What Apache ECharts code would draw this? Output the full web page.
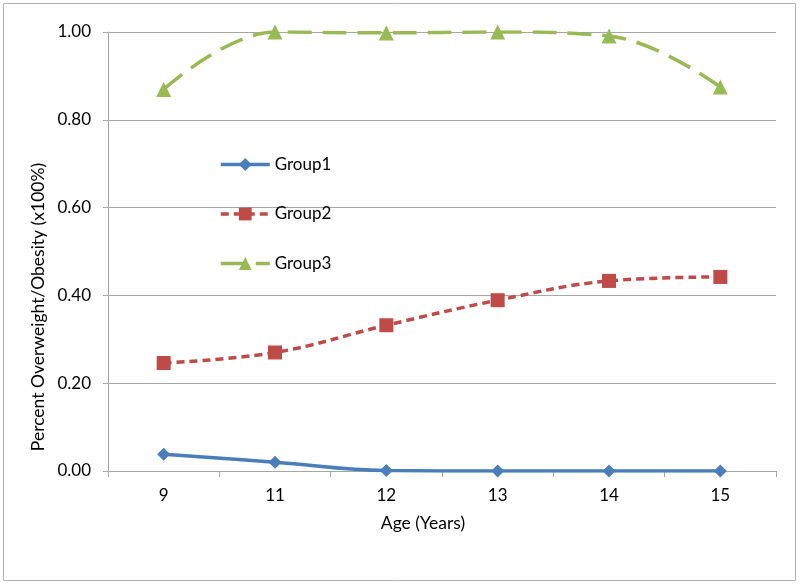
<!DOCTYPE html>
<html>
<head>
<meta charset="utf-8">
<script src="https://cdn.jsdelivr.net/npm/echarts@6/dist/echarts.min.js"></script>
<style>
html,body{margin:0;padding:0;background:#fff;}
#chart{width:800px;height:584px;}
</style>
</head>
<body>
<div id="chart"></div>
<script>
const categories = ['9', '11', '12', '13', '14', '15'];
const group1 = [0.038, 0.020, 0.001, 0.0, 0.0, 0.0];
const group2 = [0.246, 0.270, 0.332, 0.389, 0.433, 0.442];
const group3 = [0.869, 1.0, 0.998, 1.0, 0.991, 0.875];
const yTicks = [0, 0.2, 0.4, 0.6, 0.8, 1.0];
const seriesNames = ['Group1', 'Group2', 'Group3'];
const xTitle = 'Age (Years)';
const yTitle = 'Percent Overweight/Obesity (x100%)';

const FONT = 'Lato';
const C1 = '#4a7ebb', C2 = '#be4b48', C3 = '#98b954';
const chart = echarts.init(document.getElementById('chart'), null, {renderer: 'canvas'});
chart.setOption({
  animation: false,
  backgroundColor: '#fff',
  grid: {left: 108, right: 24, top: 32, bottom: 113, containLabel: false},
  legend: {
    orient: 'vertical',
    left: 214,
    top: 151,
    itemWidth: 49,
    itemHeight: 16,
    itemGap: 32.5,
    textStyle: {fontFamily: FONT, fontSize: 17, color: '#000', lineHeight: 16},
    data: [
      {name: seriesNames[0], lineStyle: {width: 3.5, color: C1}},
      {name: seriesNames[1], lineStyle: {width: 3.5, color: C2, type: [8, 5]}},
      {name: seriesNames[2], lineStyle: {width: 3.5, color: C3, type: [24, 11]}}
    ]
  },
  xAxis: {
    type: 'category',
    data: categories,
    boundaryGap: true,
    axisLine: {lineStyle: {color: '#a6a6a6', width: 1}},
    axisTick: {show: true, inside: false, length: 6, alignWithLabel: false, lineStyle: {color: '#a6a6a6'}},
    axisLabel: {fontFamily: FONT, fontSize: 17, color: '#000', margin: 16},
    splitLine: {show: false}
  },
  yAxis: {
    type: 'value',
    min: 0, max: 1, interval: 0.2,
    axisLine: {show: true, lineStyle: {color: '#a6a6a6', width: 1}},
    axisTick: {show: true, inside: false, length: 5, lineStyle: {color: '#a6a6a6'}},
    axisLabel: {fontFamily: FONT, fontSize: 17, color: '#000', margin: 17,
      formatter: v => yTicks.some(t => Math.abs(t - v) < 1e-9) ? v.toFixed(2) : ''},
    splitLine: {show: true, lineStyle: {color: '#a6a6a6', width: 1}}
  },
  graphic: [
    {type: 'rect', shape: {x: 3.5, y: 3.5, width: 792, height: 577},
     style: {fill: 'none', stroke: '#b4b4b4', lineWidth: 1}, silent: true, z: -10},
    {type: 'text', x: 423, y: 523,
     style: {text: xTitle, font: '17.5px Lato', fill: '#000', textAlign: 'center', textVerticalAlign: 'middle'}},
    {type: 'text', x: 38, y: 307, rotation: Math.PI / 2,
     style: {text: yTitle, font: '17.5px Lato', fill: '#000', textAlign: 'center', textVerticalAlign: 'middle'}}
  ],
  series: [
    {name: seriesNames[0], type: 'line', data: group1, smooth: 0.4,
     symbol: 'diamond', symbolSize: 13, color: C1,
     lineStyle: {width: 3.5, color: C1}, itemStyle: {color: C1}},
    {name: seriesNames[1], type: 'line', data: group2, smooth: 0.4,
     symbol: 'rect', symbolSize: 14, color: C2,
     lineStyle: {width: 3.5, color: C2, type: [8, 5]}, itemStyle: {color: C2}},
    {name: seriesNames[2], type: 'line', data: group3, smooth: 0.4,
     symbol: 'triangle', symbolSize: 15, color: C3,
     lineStyle: {width: 3.5, color: C3, type: [24, 11]}, itemStyle: {color: C3}}
  ]
});
</script>
</body>
</html>
